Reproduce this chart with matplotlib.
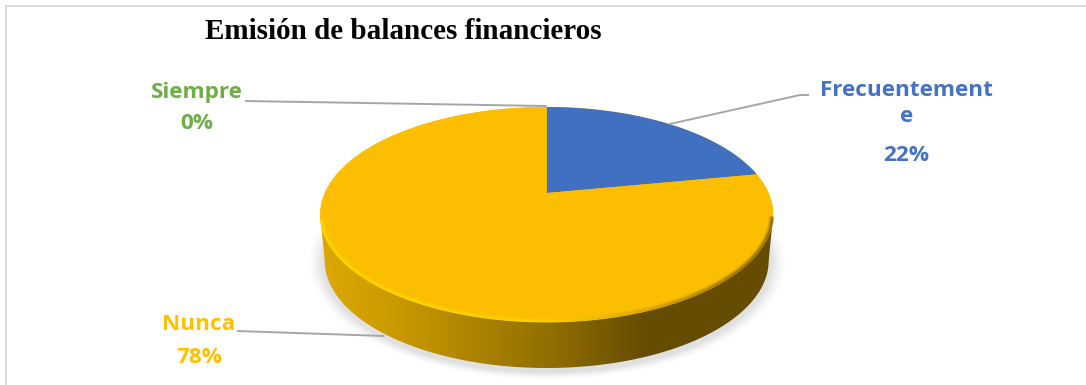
import numpy as np
import matplotlib
matplotlib.use("Agg")
import matplotlib.pyplot as plt
from matplotlib.collections import LineCollection
from matplotlib.colors import LinearSegmentedColormap
from matplotlib.patches import Polygon

# Data
categories = ["Frecuentemente", "Nunca", "Siempre"]
values = [22, 78, 0]
value_labels = ["22%", "78%", "0%"]

slice_colors = ["#4070BF", "#FBBE00", "#70AD47"]
label_colors = ["#4472C4", "#FFC000", "#70AD47"]

# Pie geometry in pixels
cx, cy = 546.7, 214.5
rx, ry = 226.5, 107.5
depth = 46
side_rx = 222
tilt = 0.2  # how far the apex sits above the middle of the ellipse


def project(theta, r=1.0):
    # theta is clockwise from 12 o'clock; perspective map of the circle to the ellipse
    u = r * np.sin(theta)
    v = r * np.cos(theta)
    w = 1 + tilt * v
    return cx + rx * u * np.sqrt(1 - tilt ** 2) / w, cy - ry * (v + tilt) / w


fig = plt.figure(figsize=(10.86, 3.85), dpi=100)
ax = fig.add_axes([0, 0, 1, 1])
ax.axis("off")

# Soft shadow under the pie
gx, gy = np.meshgrid(np.arange(290, 800), np.arange(200, 385))
dist = np.sqrt(((gx - cx) / (side_rx + 2)) ** 2 + ((gy - cy - depth - 2) / (ry + 2)) ** 2)
shadow = np.zeros(gx.shape + (4,))
shadow[..., :3] = 0.6
shadow[..., 3] = 0.3 * np.clip((1.07 - dist) / 0.07, 0, 1) ** 1.5
ax.imshow(shadow, extent=(290, 800, 385, 200), aspect="auto", zorder=1, interpolation="bilinear")

# Side wall with a horizontal gradient
t = np.linspace(np.pi, 0, 200)
wall_top = np.column_stack([cx + rx * np.cos(t), cy + ry * np.sin(t)])
wall_bottom = np.column_stack([cx + side_rx * np.cos(t), cy + depth + ry * np.sin(t)])
wall = Polygon(np.vstack([wall_top, wall_bottom[::-1]]), closed=True, fc="none", ec="none", zorder=2)
ax.add_patch(wall)
wall_cmap = LinearSegmentedColormap.from_list(
    "wall", [(0, "#DDA800"), (0.17, "#C99900"), (0.5, "#927000"), (0.72, "#664C00"), (1, "#664C00")])
grad = ax.imshow(np.linspace(0, 1, 300).reshape(1, -1), extent=(cx - rx, cx + rx, 385, 100),
                 aspect="auto", cmap=wall_cmap, zorder=2)
grad.set_clip_path(wall)

# Top face, one slice per value
angles = np.radians(np.cumsum([0] + values) * 3.6)
face = np.linspace(0, 2 * np.pi, 400)
fx, fy = project(face)
ax.fill(fx, fy, color=slice_colors[1], lw=0, zorder=3)
for i in range(len(values)):
    if values[i] == 0:
        continue
    arc = np.linspace(angles[i], angles[i + 1], 200)
    ax_, ay_ = project(arc)
    ox, oy = project(0.0, 0.0)
    ax.fill(np.r_[ox, ax_], np.r_[oy, ay_], color=slice_colors[i], lw=0, zorder=4)

# Bevel along the lower rim of the top face, fading inwards
rim_t = np.linspace(np.pi * 0.985, 0.02, 300)
rim_cmap = LinearSegmentedColormap.from_list(
    "rim", [(0, "#FFD800"), (0.5, "#FFD000"), (0.72, "#D9A400"), (0.9, "#9A7400"), (1, "#8A6800")])
for inset, width, alpha in [(3.0, 2.0, 0.2), (1.8, 1.8, 0.5), (0.6, 1.6, 0.9)]:
    px = cx + (rx - inset) * np.cos(rim_t)
    py = cy + (ry - inset) * np.sin(rim_t)
    pts = np.column_stack([px, py]).reshape(-1, 1, 2)
    segs = np.concatenate([pts[:-1], pts[1:]], axis=1)
    rim = LineCollection(segs, cmap=rim_cmap, linewidths=width, alpha=alpha, zorder=5)
    rim.set_array((px[:-1] - (cx - rx)) / (2 * rx))
    ax.add_collection(rim)

# Leader lines, anchored on the middle of each slice
leader = "#A6A6A6"
mid = (angles[:-1] + angles[1:]) / 2
x0, y0 = project(mid[0])
ax.plot([x0, 800, 809], [y0, 95, 95], color=leader, lw=1.4, zorder=6, solid_capstyle="butt")
x1, y1 = project(mid[1])
ax.plot([x1 + 5, 237], [y1 + depth + 3, 331], color=leader, lw=1.4, zorder=6, solid_capstyle="butt")
x2, y2 = project(mid[2])
ax.plot([x2, x2 - 1, 245], [y2 - 1, y2 - 1, 101], color=leader, lw=1.4, zorder=6, solid_capstyle="butt")

# Labels
font = dict(family="Open Sans", fontweight="bold", fontsize=16.2, ha="center", va="baseline", zorder=7)
ax.text(906.7, 96, "Frecuentement", color=label_colors[0], **font)
ax.text(906.7, 122, "e", color=label_colors[0], **font)
ax.text(906.7, 161, value_labels[0], color=label_colors[0], **font)
ax.text(199, 330, categories[1], color=label_colors[1], **font)
ax.text(199, 363, value_labels[1], color=label_colors[1], **font)
ax.text(197, 98, categories[2], color=label_colors[2], **font)
ax.text(197, 129, value_labels[2], color=label_colors[2], **font)

ax.text(205, 39, "Emisión de balances financieros", family="Liberation Serif", fontweight="bold",
        fontsize=21, color="black", ha="left", va="baseline", zorder=7)

# Frame, only the top and left edges show
ax.plot([6, 1086], [6, 6], color="#D9D9D9", lw=1.4, zorder=0)
ax.plot([6, 6], [6, 385], color="#D9D9D9", lw=1.4, zorder=0)

ax.set_xlim(0, 1086)
ax.set_ylim(385, 0)

fig.savefig("out.png", dpi=100, facecolor="white")
